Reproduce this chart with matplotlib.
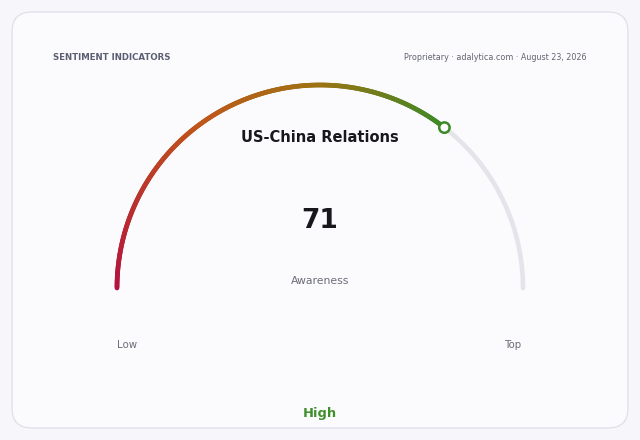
import numpy as np
import matplotlib
matplotlib.use("Agg")
import matplotlib.pyplot as plt
from matplotlib.collections import LineCollection
from matplotlib.colors import LinearSegmentedColormap
from matplotlib.patches import FancyBboxPatch, Circle

plt.rcParams['font.family'] = ['DejaVu Sans']

# data
title = "US-China Relations"
value = 71
vmin, vmax = 0, 100
metric_label = "Awareness"
low_label = "Low"
high_label = "Top"
status_label = "High"
header_left = "SENTIMENT INDICATORS"
header_right = "Proprietary \u00b7 adalytica.com \u00b7 August 23, 2026"

grad_colors = ["#b3123f", "#c0561b", "#9e7212", "#3c8a27"]
grad_stops = [0.0, 0.42, 0.70, 1.0]

fig = plt.figure(figsize=(6.4, 4.4), dpi=100, facecolor="#f7f7fb")
ax = fig.add_axes([0, 0, 1, 1])
ax.set_xlim(0, 640)
ax.set_ylim(440, 0)
ax.axis("off")

# card
card = FancyBboxPatch((12, 12), 616, 416, boxstyle="round,pad=0,rounding_size=20",
                      facecolor="#fbfbfe", edgecolor="#e1e1ea", linewidth=1.0)
ax.add_patch(card)

cx, cy, r = 320, 288, 203

def pt(v):
    a = np.pi * (1 - (v - vmin) / (vmax - vmin))
    return cx + r * np.cos(a), cy - r * np.sin(a)

# track
tv = np.linspace(vmin, vmax, 300)
tx, ty = pt(tv)
ax.plot(tx, ty, color="#e4e4ea", lw=3.3, solid_capstyle="round", zorder=2)

# gradient value arc
cmap = LinearSegmentedColormap.from_list("g", list(zip(grad_stops, grad_colors)))
vv = np.linspace(vmin, value, 300)
px, py = pt(vv)
pts = np.column_stack([px, py]).reshape(-1, 1, 2)
segs = np.concatenate([pts[:-1], pts[1:]], axis=1)
lc = LineCollection(segs, colors=cmap(np.linspace(0, 1, len(segs))), lw=3.4,
                    capstyle="round", zorder=3)
ax.add_collection(lc)

mx, my = pt(value)
ax.add_patch(Circle((mx, my), 5.2, facecolor="white", edgecolor="#3c8a27", lw=1.8, zorder=4))

# texts
ax.text(53, 57, header_left, fontsize=6.2, fontweight="bold", color="#5b5d72",
        ha="left", va="center")
ax.text(587, 57, header_right, fontsize=5.8, color="#62646f", ha="right", va="center")
ax.text(320, 137, title, fontsize=10.5, fontweight="bold", color="#17171c",
        ha="center", va="center")
ax.text(320, 221, str(value), fontsize=19, fontweight="bold", color="#17171c",
        ha="center", va="center")
ax.text(320, 281, metric_label, fontsize=7.8, color="#6b6d78", ha="center", va="center")
ax.text(127, 345, low_label, fontsize=7.4, color="#6b6d78", ha="center", va="center")
ax.text(513, 345, high_label, fontsize=7.4, color="#6b6d78", ha="center", va="center")
ax.text(320, 414, status_label, fontsize=9.4, fontweight="bold", color="#3f8f2a",
        ha="center", va="center")

fig.savefig("out.png", dpi=100, facecolor=fig.get_facecolor())
